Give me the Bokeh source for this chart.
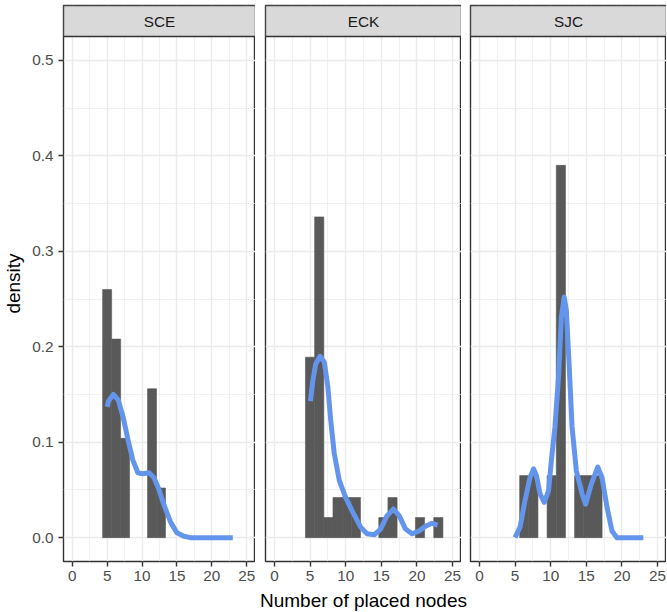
from bokeh.plotting import figure
from bokeh.models import FixedTicker, BoxAnnotation, Label, PrintfTickFormatter, Range1d
from bokeh.layouts import row, column
from bokeh.embed import file_html
from bokeh.resources import INLINE

# ---------------- data ----------------
panels = ["SCE", "ECK", "SJC"]
bin_width = 1.286

sce_centers = [5.0, 6.29, 7.57, 11.43, 12.71]
sce_density = [0.260, 0.208, 0.104, 0.156, 0.052]
eck_centers = [5.0, 6.29, 7.57, 8.86, 10.14, 11.43, 15.29, 16.57, 20.43, 23.0]
eck_density = [0.189, 0.336, 0.021, 0.042, 0.042, 0.042, 0.021, 0.042, 0.021, 0.021]
sjc_centers = [6.29, 7.57, 10.14, 11.43, 14.0, 15.29, 16.57]
sjc_density = [0.065, 0.065, 0.065, 0.390, 0.065, 0.065, 0.065]

sce_kde_x = [5.0, 5.2, 5.9, 6.6, 7.3, 8.0, 8.7, 9.4, 10.1, 11.0, 11.7, 12.4, 13.1, 14.1, 15.0, 16.0, 16.9, 23.0]
sce_kde_y = [0.137, 0.143, 0.150, 0.144, 0.126, 0.102, 0.081, 0.068, 0.067, 0.068, 0.063, 0.051, 0.035, 0.016, 0.005, 0.0015, 0.0, 0.0]
eck_kde_x = [5.05, 5.4, 5.8, 6.4, 7.0, 7.5, 7.9, 8.4, 9.1, 10.0, 10.9, 12.1, 13.0, 14.0, 14.9, 15.8, 16.7, 17.5, 18.4, 19.3, 20.3, 21.2, 22.1, 22.9]
eck_kde_y = [0.143, 0.165, 0.182, 0.190, 0.184, 0.158, 0.123, 0.088, 0.060, 0.042, 0.028, 0.011, 0.004, 0.003, 0.009, 0.023, 0.030, 0.023, 0.009, 0.004, 0.007, 0.012, 0.015, 0.013]
sjc_kde_x = [5.0, 5.7, 6.4, 7.1, 7.6, 8.0, 8.5, 9.1, 9.7, 10.1, 10.6, 11.1, 11.5, 11.9, 12.2, 12.6, 13.0, 13.6, 14.4, 14.9, 15.7, 16.6, 17.2, 17.9, 18.6, 19.3, 23.0]
sjc_kde_y = [0.0, 0.011, 0.039, 0.063, 0.072, 0.065, 0.046, 0.037, 0.049, 0.081, 0.116, 0.168, 0.231, 0.252, 0.238, 0.179, 0.116, 0.070, 0.046, 0.035, 0.056, 0.074, 0.063, 0.032, 0.007, 0.0, 0.0]

x_ticks = [0, 5, 10, 15, 20, 25]
x_minor = [2.5, 7.5, 12.5, 17.5, 22.5]
y_ticks = [0.0, 0.1, 0.2, 0.3, 0.4, 0.5]
y_minor = [0.05, 0.15, 0.25, 0.35, 0.45]

x_title = "Number of placed nodes"
y_title = "density"

hist = {
    "SCE": (sce_centers, sce_density, sce_kde_x, sce_kde_y),
    "ECK": (eck_centers, eck_density, eck_kde_x, eck_kde_y),
    "SJC": (sjc_centers, sjc_density, sjc_kde_x, sjc_kde_y),
}

# ---------------- layout / style ----------------
FONT = "Liberation Sans"
X0, X1 = -1.25, 26.25
Y0, Y1 = -0.025, 0.525
PANEL_W, PANEL_H, STRIP_H = 196, 525, 31
LEFT_BORDERS = [59, 10, 9]
TOP, BOTTOM = 5, 27
TITLE_H = 24
TOTAL_W = sum(LEFT_BORDERS) + 3 * PANEL_W
y_top = Y1 + (Y1 - Y0) * STRIP_H / PANEL_H

figs = []
for i, name in enumerate(panels):
    centers, dens, kx, ky = hist[name]
    lb = LEFT_BORDERS[i]
    p = figure(width=lb + PANEL_W, height=TOP + STRIP_H + PANEL_H + BOTTOM,
               output_backend="svg", toolbar_location=None, title=None,
               x_range=Range1d(X0, X1), y_range=Range1d(Y0, y_top),
               min_border_left=lb, min_border_right=0,
               min_border_top=TOP, min_border_bottom=BOTTOM)
    p.background_fill_color = "white"
    p.border_fill_color = "white"
    p.outline_line_color = "#333333"
    p.outline_line_width = 1.4

    for ax in (p.xaxis, p.yaxis):
        ax.axis_line_color = None
        ax.major_tick_line_color = "#333333"
        ax.major_tick_line_width = 1.4
        ax.major_tick_in = 0
        ax.major_tick_out = 5
        ax.minor_tick_line_color = None
        ax.major_label_text_font = FONT
        ax.major_label_text_font_size = "15.3px"
        ax.major_label_text_color = "#4D4D4D"
    p.xaxis.major_label_standoff = 4
    p.yaxis.major_label_standoff = 5
    p.xaxis.ticker = FixedTicker(ticks=x_ticks, minor_ticks=x_minor)
    p.yaxis.ticker = FixedTicker(ticks=y_ticks, minor_ticks=y_minor)
    p.yaxis.formatter = PrintfTickFormatter(format="%.1f")
    for g in (p.xgrid, p.ygrid):
        g.grid_line_color = "#EBEBEB"
        g.grid_line_width = 1.4
        g.minor_grid_line_color = "#EBEBEB"
        g.minor_grid_line_width = 0.7

    if i == 0:
        p.yaxis.axis_label = y_title
        p.yaxis.axis_label_text_font = FONT
        p.yaxis.axis_label_text_font_size = "19px"
        p.yaxis.axis_label_text_font_style = "normal"
        p.yaxis.axis_label_text_color = "black"
        p.yaxis.axis_label_standoff = 5
    else:
        p.yaxis.visible = False

    # histogram
    lefts = [c - bin_width / 2 for c in centers]
    rights = [c + bin_width / 2 for c in centers]
    p.quad(left=lefts, right=rights, bottom=0, top=dens,
           fill_color="#595959", line_color="#595959", line_width=0.6)
    # density curve
    p.line(kx, ky, line_color="#6495ED", line_width=5, line_join="round")

    # facet strip
    p.add_layout(BoxAnnotation(bottom=Y1, fill_color="#D9D9D9", fill_alpha=1.0,
                               line_color="#333333", line_width=1.4, line_alpha=1.0,
                               level="annotation"))
    p.add_layout(Label(x=(X0 + X1) / 2, y=(Y1 + y_top) / 2, text=name,
                       text_align="center", text_baseline="middle",
                       text_font=FONT, text_font_size="15.3px", text_color="#1A1A1A"))
    figs.append(p)

# shared x-axis title, centred under the middle panel
t = figure(width=TOTAL_W, height=TITLE_H, output_backend="svg", toolbar_location=None,
           title=None, x_range=Range1d(0, TOTAL_W), y_range=Range1d(0, TITLE_H),
           x_axis_location=None, y_axis_location=None,
           min_border_left=0, min_border_right=0, min_border_top=0, min_border_bottom=0)
t.grid.visible = False
t.outline_line_color = None
t.background_fill_color = "white"
t.border_fill_color = "white"
mid_x = LEFT_BORDERS[0] + PANEL_W + LEFT_BORDERS[1] + PANEL_W / 2
t.add_layout(Label(x=mid_x, y=TITLE_H / 2, text=x_title, text_align="center",
                   text_baseline="middle", text_font=FONT, text_font_size="19px",
                   text_color="black"))

layout = column(row(*figs, spacing=0), t, spacing=0)
open("out.html", "w").write(file_html(layout, INLINE))
